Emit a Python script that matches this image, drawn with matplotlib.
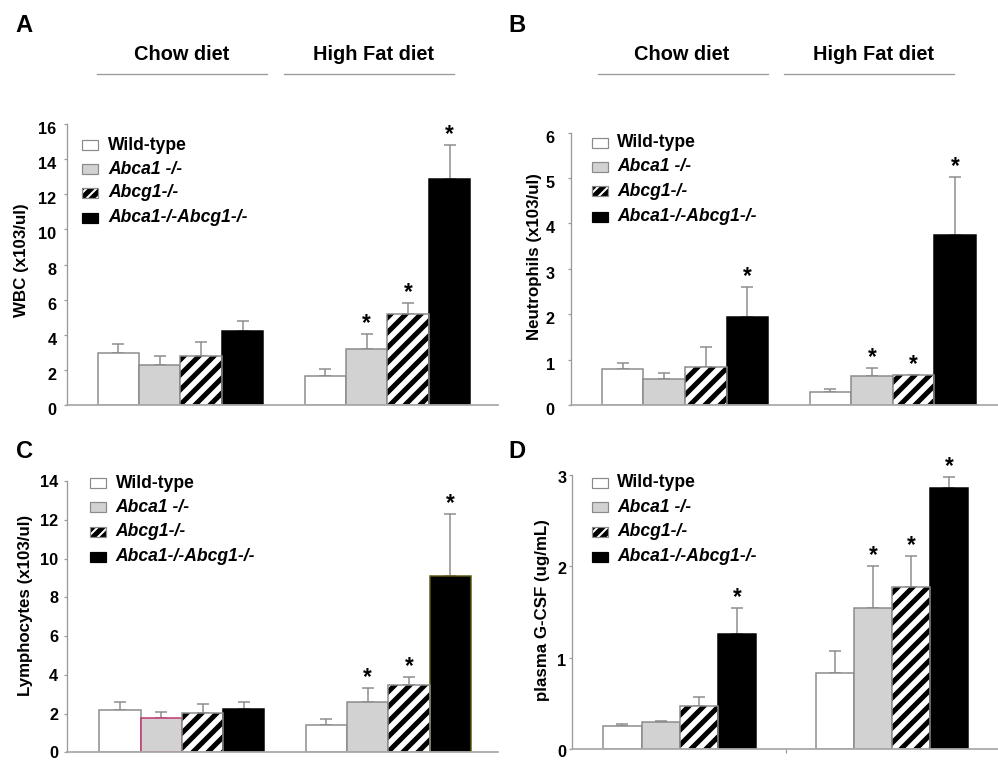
import matplotlib
matplotlib.use("Agg")
import matplotlib.pyplot as plt
from matplotlib.patches import Rectangle
from matplotlib.lines import Line2D
from matplotlib.transforms import ScaledTranslation
import numpy as np

plt.rcParams['font.family'] = ['Liberation Sans', 'DejaVu Sans']
plt.rcParams['hatch.linewidth'] = 4.0
plt.rcParams['hatch.color'] = 'black'

DPI = 90
W, H = 998, 762

# ---------------- data ----------------
groups = ["Chow diet", "High Fat diet"]
genotypes = ["Wild-type", "Abca1 -/-", "Abcg1-/-", "Abca1-/-Abcg1-/-"]

wbc_mean = [[2.98, 2.28, 2.79, 4.23], [1.67, 3.19, 5.16, 12.87]]
wbc_err = [[0.52, 0.51, 0.81, 0.55], [0.36, 0.84, 0.63, 1.93]]
wbc_sig = [[0, 0, 0, 0], [0, 1, 1, 1]]

neu_mean = [[0.79, 0.57, 0.84, 1.95], [0.29, 0.65, 0.67, 3.74]]
neu_err = [[0.13, 0.14, 0.43, 0.66], [0.07, 0.16, 0.0, 1.29]]
neu_sig = [[0, 0, 0, 1], [0, 1, 1, 1]]

lym_mean = [[2.18, 1.75, 2.01, 2.23], [1.41, 2.61, 3.47, 9.10]]
lym_err = [[0.40, 0.35, 0.50, 0.38], [0.31, 0.69, 0.43, 3.18]]
lym_sig = [[0, 0, 0, 0], [0, 1, 1, 1]]

gcsf_mean = [[0.255, 0.30, 0.474, 1.256], [0.836, 1.547, 1.77, 2.86]]
gcsf_err = [[0.015, 0.01, 0.092, 0.291], [0.237, 0.453, 0.34, 0.12]]
gcsf_sig = [[0, 0, 0, 1], [0, 1, 1, 1]]

ylabels = ["WBC (x103/ul)", "Neutrophils (x103/ul)", "Lymphocytes (x103/ul)", "plasma G-CSF (ug/mL)"]
yticks_list = [[0, 2, 4, 6, 8, 10, 12, 14, 16], [0, 1, 2, 3, 4, 5, 6], [0, 2, 4, 6, 8, 10, 12, 14], [0, 1, 2, 3]]
panel_letters = ["A", "B", "C", "D"]

# ---------------- styling ----------------
faces = ['white', '#d2d2d2', 'white', 'black']
hatches = [None, None, '//', None]
legend_hatches = [None, None, '///', None]
edges = ['#8a8a8a', '#8a8a8a', '#8a8a8a', 'black']
GRAY = '#9a9a9a'

fig = plt.figure(figsize=(W / DPI, H / DPI), dpi=DPI)


def fx(x):
    return x / W


def fy(y):
    return 1 - y / H


def px2pt(p):
    return p * 72.0 / DPI


panels = [
    dict(l=67, r=498, b=405, t=124, xlim=(-0.548, 1.534), bw=0.2, pad=7, shift=-4,
         mean=wbc_mean, err=wbc_err, sig=wbc_sig, yl=(21.5, 260), legend=(82, 108, [145, 169, 193, 218]),
         midtick=False),
    dict(l=570.7, r=998, b=405, t=132.7, xlim=(-0.55, 1.506), bw=0.2, pad=12.5, shift=-4,
         mean=neu_mean, err=neu_err, sig=neu_sig, yl=(534.5, 256.7), legend=(591.7, 617.3, [142.7, 166.7, 191, 216.7]),
         midtick=False),
    dict(l=67, r=498, b=752.3, t=481, xlim=(-0.557, 1.532), bw=0.2, pad=5.5, shift=0,
         mean=lym_mean, err=lym_err, sig=lym_sig, yl=(26, 605), legend=(90, 115.7, [483.3, 507.3, 531.7, 556.7]),
         midtick=False),
    dict(l=571.7, r=998, b=749, t=475, xlim=(-0.509, 1.50), bw=0.18, pad=2, shift=-2,
         mean=gcsf_mean, err=gcsf_err, sig=gcsf_sig, yl=(542.5, 610), legend=(591.7, 617.3, [482.7, 507.3, 531.7, 556.7]),
         midtick=True),
]

letter_pos = [(24, 25), (517, 25), (25, 451), (517, 451)]

for k, p in enumerate(panels):
    ax = fig.add_axes([fx(p['l']), fy(p['b']), (p['r'] - p['l']) / W, (p['b'] - p['t']) / H])
    yt = yticks_list[k]
    ax.set_ylim(0, yt[-1])
    ax.set_xlim(*p['xlim'])
    bw = p['bw']
    x = np.arange(len(groups))
    for i in range(len(genotypes)):
        vals = [p['mean'][g][i] for g in range(len(groups))]
        errs = [p['err'][g][i] for g in range(len(groups))]
        xs = x + (i - 1.5) * bw
        ec = [edges[i]] * len(groups)
        if k == 2 and i == 1:
            ec = ['#c2336e', edges[i]]
        if k == 2 and i == 3:
            ec = [edges[i], '#5c5a10']
        if hatches[i]:
            ax.bar(xs, vals, width=bw, color=faces[i], edgecolor='black', hatch=hatches[i],
                   linewidth=0, zorder=2)
            ax.bar(xs, vals, width=bw, fill=False, edgecolor=ec, linewidth=px2pt(1.5), zorder=2.1)
        else:
            ax.bar(xs, vals, width=bw, color=faces[i], edgecolor=ec,
                   linewidth=px2pt(1.5), zorder=2)
        ax.errorbar(xs, vals, yerr=[np.zeros(len(vals)), errs], fmt='none', ecolor='#8c8c8c',
                    elinewidth=px2pt(1.5), capsize=px2pt(5.5), capthick=px2pt(1.5), zorder=1)
        for g in range(len(groups)):
            if p['sig'][g][i]:
                ax.annotate('*', (xs[g], vals[g] + errs[g]), xytext=(0, px2pt(4)), textcoords='offset points',
                            ha='center', va='baseline', fontsize=18, fontweight='bold')
    ax.set_yticks(yt)
    ax.set_yticklabels([str(v) for v in yt], fontsize=13, fontweight='bold')
    ax.tick_params(axis='y', direction='out', length=px2pt(3.5), width=px2pt(1.2), color=GRAY, pad=px2pt(p['pad']))
    if p['midtick']:
        ax.set_xticks([0.5])
        ax.set_xticklabels([''])
        ax.tick_params(axis='x', direction='out', length=px2pt(4), width=px2pt(1.2), color=GRAY)
    else:
        ax.set_xticks([])
    for lab in ax.get_yticklabels():
        lab.set_transform(lab.get_transform() + ScaledTranslation(0, p['shift'] / DPI, fig.dpi_scale_trans))
    for s in ['top', 'right']:
        ax.spines[s].set_visible(False)
    ax.spines['left'].set_color(GRAY)
    ax.spines['left'].set_linewidth(px2pt(1.3))
    ax.spines['bottom'].set_color('#aaaaaa')
    ax.spines['bottom'].set_linewidth(px2pt(1.8))
    ax.patch.set_alpha(0)

    ylx, yly = p['yl']
    ax.set_ylabel(ylabels[k], fontsize=13.5, fontweight='bold', va='center', ha='center')
    ax.yaxis.set_label_coords((ylx - p['l']) / (p['r'] - p['l']), (p['b'] - yly) / (p['b'] - p['t']))

    # legend (manual)
    sx, tx, rows = p['legend']
    for i, name in enumerate(genotypes):
        ry = rows[i]
        if legend_hatches[i]:
            fig.add_artist(Rectangle((fx(sx), fy(ry + 5)), 16 / W, 10 / H, transform=fig.transFigure,
                                     facecolor='white', edgecolor='black', hatch=legend_hatches[i], linewidth=0))
            fig.add_artist(Rectangle((fx(sx), fy(ry + 5)), 16 / W, 10 / H, transform=fig.transFigure,
                                     fill=False, edgecolor=edges[i], linewidth=px2pt(1.2)))
        else:
            fig.add_artist(Rectangle((fx(sx), fy(ry + 5)), 16 / W, 10 / H, transform=fig.transFigure,
                                     facecolor=faces[i], edgecolor=edges[i], linewidth=px2pt(1.2)))
        style = 'normal' if i == 0 else 'italic'
        fig.text(fx(tx), fy(ry), name, fontsize=14, fontweight='bold', fontstyle=style,
                 ha='left', va='center')

    lx, ly = letter_pos[k]
    fig.text(fx(lx), fy(ly), panel_letters[k], fontsize=19, fontweight='bold', ha='center', va='center')

headers = [
    [(181.7, 55, 97, 267), (373.3, 55, 284, 454)],
    [(681.7, 55, 597.7, 768.3), (873.3, 55, 784, 954.3)],
]
for hdr in headers:
    for g, (cx, cy, x0, x1) in enumerate(hdr):
        fig.text(fx(cx), fy(cy), groups[g], fontsize=16, fontweight='bold', ha='center', va='center')
        fig.add_artist(Line2D([fx(x0), fx(x1)], [fy(74), fy(74)], transform=fig.transFigure,
                              color=GRAY, linewidth=px2pt(1.3)))

fig.savefig('out.png', dpi=DPI)
